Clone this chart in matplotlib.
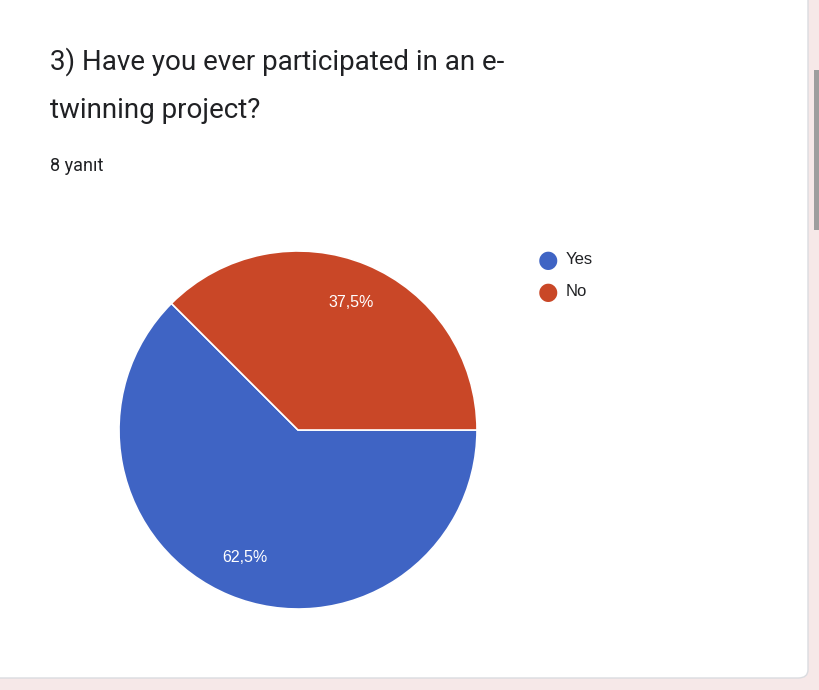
import matplotlib
matplotlib.use("Agg")
import matplotlib.pyplot as plt
import numpy as np
from matplotlib.patches import FancyBboxPatch, Rectangle

labels = ["Yes", "No"]
values = [62.5, 37.5]
colors = ["#3f64c4", "#c94727"]

W, H = 820, 690
fig = plt.figure(figsize=(W / 100, H / 100), dpi=100)
fig.patch.set_facecolor("#f6e8e8")

# white card
fig.add_artist(FancyBboxPatch((-10 / W, 12 / H), 818 / W, 700 / H,
                              boxstyle="round,pad=0,rounding_size=0.012",
                              transform=fig.transFigure, facecolor="white",
                              edgecolor="#dadce0", linewidth=1, zorder=-5))
# scrollbar
fig.add_artist(Rectangle((814 / W, 1 - 230 / H), 6 / W, 160 / H,
                         transform=fig.transFigure, facecolor="#9e9e9e",
                         edgecolor="none", zorder=-4))

fig.text(50 / W, 1 - 62 / H, "3) Have you ever participated in an e-",
         fontsize=20, color="#202124", va="center", family="Roboto")
fig.text(50 / W, 1 - 110 / H, "twinning project?",
         fontsize=20, color="#202124", va="center", family="Roboto")
fig.text(50 / W, 1 - 166 / H, "8 yanıt", fontsize=13, color="#202124",
         va="center", family="Roboto")

cx, cy, r = 298, 430, 179
ax = fig.add_axes([(cx - r) / W, 1 - (cy + r) / H, 2 * r / W, 2 * r / H])
ax.set_zorder(5)
ax.patch.set_alpha(0)
wedges, _ = ax.pie(values, colors=colors, startangle=0, counterclock=False,
                   wedgeprops=dict(edgecolor="white", linewidth=1.2))
for w, v in zip(wedges, values):
    ang = np.deg2rad((w.theta1 + w.theta2) / 2)
    ax.text(0.77 * np.cos(ang), 0.77 * np.sin(ang),
            f"{v:.1f}%".replace(".", ","), ha="center", va="center",
            color="white", fontsize=11.5, family="Liberation Sans")
ax.set_xlim(-1, 1)
ax.set_ylim(-1, 1)
ax.set_aspect("equal")
ax.axis("off")

for i, (lab, c) in enumerate(zip(labels, colors)):
    y = 1 - (260 + 32 * i) / H
    fig.text(548 / W, y, "●", color=c, fontsize=17, ha="center", va="center")
    fig.text(566 / W, y, lab, color="#202124", fontsize=12, va="center",
             family="Liberation Sans")

fig.savefig("out.png", dpi=100, facecolor=fig.get_facecolor())
